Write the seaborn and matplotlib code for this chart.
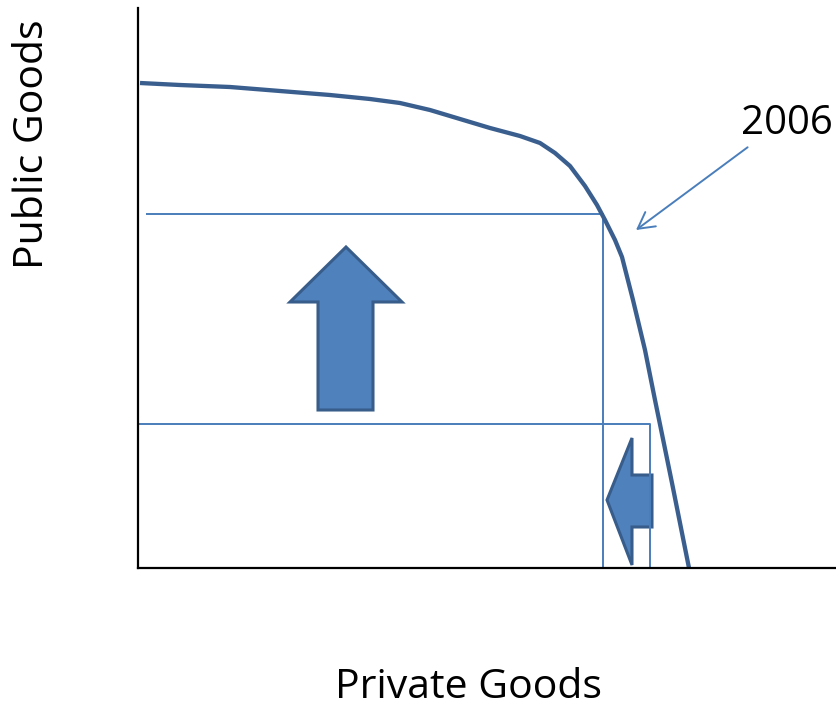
import numpy as np
import pandas as pd
import matplotlib
matplotlib.use("Agg")
import matplotlib.pyplot as plt
from matplotlib.patches import Polygon
import seaborn as sns

# frontier (private goods, public goods)
frontier_x = [2, 42, 92, 142, 192, 232, 262, 292, 322, 352, 382, 402, 417, 432, 447,
              459, 467, 477, 484, 495, 507, 517, 525, 534, 542, 551]
frontier_y = [485, 483, 481, 477, 473, 469, 465, 458, 449, 440, 432, 425, 415, 402, 382,
              363, 348, 328, 311, 268, 218, 168, 129, 85, 45, 0]

# the two chosen points on / inside the frontier
point_a = (465, 354)
point_b = (512, 144)
guide_a_start = 8

# block arrows (outline vertices)
up_arrow = [(180, 158), (180, 266), (152, 266), (208, 321), (264, 266), (235, 266), (235, 158)]
left_arrow = [(514, 93), (494, 93), (494, 130), (469, 68), (494, 3), (494, 41), (514, 41)]

label_year = "2006"
label_x = "Private Goods"
label_y = "Public Goods"

line_dark = "#3A5F8F"
line_light = "#4A7EBB"
fill_blue = "#4F81BD"
edge_blue = "#385D8A"

sns.set_style("white")
plt.rcParams["font.family"] = ["Open Sans", "DejaVu Sans"]

fig = plt.figure(figsize=(8.36, 7.09), dpi=100)
ax = fig.add_axes([138 / 836, 141 / 709, 698 / 836, 560 / 709])

# guide lines
guides = pd.DataFrame({
    "x": [guide_a_start, point_a[0], point_a[0], np.nan, 0, point_b[0], point_b[0]],
    "y": [point_a[1], point_a[1], 0, np.nan, point_b[1], point_b[1], 0],
})
ax.plot(guides["x"], guides["y"], color=line_light, lw=1.4, solid_capstyle="butt")

curve = pd.DataFrame({"x": frontier_x, "y": frontier_y})
sns.lineplot(data=curve, x="x", y="y", sort=False, color=line_dark, lw=3.1,
             solid_joinstyle="round", solid_capstyle="butt", ax=ax)

for verts in (up_arrow, left_arrow):
    ax.add_patch(Polygon(verts, closed=True, facecolor=fill_blue,
                         edgecolor=edge_blue, lw=2.2, joinstyle="miter"))

ax.annotate(label_year, xy=(498, 338), xytext=(603, 424), textcoords="data",
            fontsize=29, color="black", va="bottom", ha="left",
            annotation_clip=False,
            arrowprops=dict(arrowstyle="->,head_length=0.4,head_width=0.22",
                            color=line_light, lw=1.4, shrinkA=0, shrinkB=0,
                            relpos=(0.12, 0)))

ax.set_xlim(0, 698)
ax.set_ylim(0, 560)
ax.set_xticks([])
ax.set_yticks([])
ax.set_xlabel("")
ax.set_ylabel("")
sns.despine(ax=ax, top=True, right=True)
for s in ("left", "bottom"):
    ax.spines[s].set_color("black")
    ax.spines[s].set_linewidth(1.6)

fig.text(469 / 836, 1 - 688 / 709, label_x, fontsize=29.5, color="black",
         ha="center", va="center")
fig.text(33 / 836, 1 - 144 / 709, label_y, fontsize=29.5, color="black",
         ha="center", va="center", rotation=90)

fig.savefig("out.png", dpi=100, facecolor="white")
